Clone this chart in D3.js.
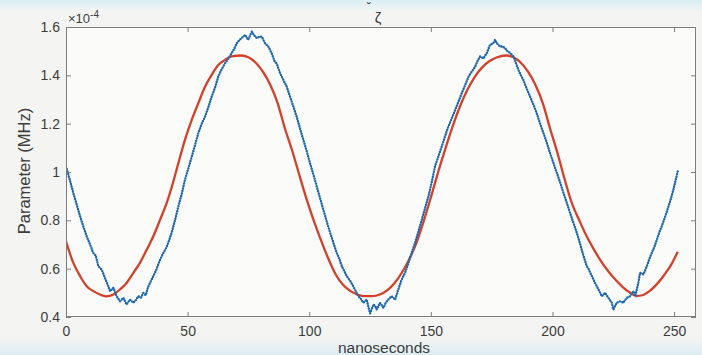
<!DOCTYPE html>
<html>
<head>
<meta charset="utf-8">
<script src="https://cdn.jsdelivr.net/npm/d3@7"></script>
<style>
  html, body { margin: 0; padding: 0; background: #f4f5f3; }
  svg { display: block; font-family: "Liberation Sans", Arial, Helvetica, sans-serif; }
</style>
</head>
<body>
<svg id="chart" width="702" height="355"></svg>
<script>
// Measured signal (units of 1e-4 MHz) against time in nanoseconds
const measuredT = [0,1.5,3,4.4,5.8,7.1,8.5,9.9,11.2,12.2,13.3,14.7,16,17.4,18.1,19.5,20.8,22.2,23.6,24.9,26.3,27.7,28.7,29.7,30.8,31.8,32.8,33.6,34.5,35.9,37.3,38.7,40,41.4,42.8,43.4,44.8,46.2,47.6,48.9,50.3,51.7,53,54.4,55.8,57.2,58.6,59.9,61.3,62.6,64,65.4,66.8,68.1,69.2,70.2,71.2,72.2,73.6,74.9,76.4,77.4,78.4,79.5,80.5,81.8,83.2,84.6,85.9,86.6,88,89.4,90.7,92.1,93.5,94.8,96.2,97.6,99,100.3,101.7,103.1,104.5,105.8,107.2,108.6,110,111.3,112.4,113.4,114.4,115.4,116.8,118.1,119.2,120.2,121.2,122.2,123.6,125,126.4,127.1,127.7,129.1,130.5,131.5,132.5,133.9,135.3,136.6,138,139.4,140.8,142.1,143.5,144.9,146.3,147.6,149,150.4,151.7,153.1,154.5,155.8,157.2,158.6,160,161.3,162.7,164.1,165.5,166.8,168.2,169.2,170.2,171.6,173,174.3,175.7,176.4,177.1,178.5,179.5,180.5,181.5,182.6,184,185,186,187,188,189.4,190.8,192.2,193.5,194.9,196.3,197.7,199,200.4,201.8,203.2,204.5,205.9,207.2,208.6,210,211,212,213,214.1,214.8,215.5,216.2,217.5,218.9,220.3,221.6,223,224.4,225,226.4,227.8,229.1,230.5,231.9,233.3,234,235.3,236,237.4,238.8,239.8,240.8,241.9,242.9,243.9,244.9,246.3,247.7,248.7,249.7,250.6,251.5];
const measuredV = [1.023,0.97,0.913,0.865,0.817,0.775,0.734,0.70,0.665,0.655,0.61,0.596,0.562,0.527,0.507,0.521,0.486,0.465,0.479,0.452,0.472,0.459,0.47,0.486,0.48,0.50,0.49,0.52,0.541,0.569,0.60,0.638,0.665,0.69,0.73,0.748,0.80,0.858,0.91,0.968,1.015,1.064,1.11,1.161,1.20,1.23,1.271,1.312,1.35,1.395,1.425,1.45,1.47,1.492,1.51,1.533,1.545,1.554,1.567,1.547,1.581,1.565,1.554,1.56,1.56,1.533,1.519,1.49,1.455,1.45,1.409,1.38,1.354,1.312,1.27,1.23,1.18,1.133,1.085,1.037,0.99,0.94,0.89,0.844,0.795,0.748,0.705,0.665,0.64,0.61,0.59,0.569,0.55,0.527,0.505,0.486,0.475,0.459,0.472,0.415,0.452,0.445,0.431,0.459,0.438,0.46,0.472,0.486,0.472,0.514,0.555,0.583,0.624,0.665,0.707,0.755,0.803,0.85,0.899,0.96,1.023,1.065,1.106,1.147,1.188,1.222,1.257,1.29,1.326,1.36,1.395,1.415,1.436,1.46,1.478,1.47,1.492,1.526,1.533,1.547,1.533,1.519,1.52,1.512,1.50,1.492,1.478,1.45,1.423,1.40,1.381,1.345,1.312,1.278,1.244,1.20,1.161,1.12,1.078,1.037,0.996,0.955,0.913,0.872,0.831,0.79,0.748,0.715,0.679,0.645,0.61,0.60,0.583,0.569,0.541,0.514,0.486,0.50,0.479,0.459,0.431,0.459,0.465,0.459,0.479,0.486,0.507,0.486,0.541,0.583,0.576,0.61,0.64,0.665,0.69,0.72,0.75,0.775,0.815,0.858,0.89,0.927,0.965,1.003];

// Fitted model curve
const fitT = [0,3,5.8,8.5,11.2,14,16.7,19.5,22.2,24.9,27.7,30.4,33.2,35.9,38.7,41.4,43.4,46.2,48.9,51.7,54.4,57.2,59.9,62.6,65.4,68.1,72,75,78,81,84,87,90,93,96,99,102,105,108,111,114,117,120,123,126,129,132,135,138,141,144,147,150,153,156,159,162,165,168,171,174,177,181,184,187,190,193,196,199,202,205,208,211,214,217,220,223,226,229,232,234.5,237,240,243,246,249,251.5];
const fitV = [0.713,0.624,0.569,0.527,0.507,0.493,0.485,0.493,0.514,0.541,0.583,0.624,0.679,0.734,0.803,0.872,0.935,1.037,1.133,1.216,1.285,1.354,1.402,1.443,1.464,1.478,1.482,1.475,1.452,1.414,1.36,1.285,1.18,1.088,0.985,0.885,0.795,0.713,0.638,0.574,0.532,0.507,0.492,0.486,0.486,0.493,0.51,0.54,0.582,0.637,0.705,0.795,0.895,1.0,1.098,1.19,1.272,1.34,1.393,1.432,1.458,1.474,1.482,1.475,1.452,1.414,1.36,1.285,1.18,1.08,0.97,0.87,0.80,0.735,0.68,0.63,0.588,0.553,0.523,0.50,0.487,0.49,0.508,0.537,0.575,0.62,0.67];

const xTicks = [0, 50, 100, 150, 200, 250];
const yTicks = [0.4, 0.6, 0.8, 1, 1.2, 1.4, 1.6];

const svg = d3.select("#chart");
const W = 702, H = 355;
const m = { left: 66, right: 6, top: 27, bottom: 38 };
const pw = W - m.left - m.right, ph = H - m.top - m.bottom;

// screen bands of the figure background
const defs = svg.append("defs");
const gTop = defs.append("linearGradient").attr("id", "topband").attr("x1", 0).attr("y1", 0).attr("x2", 0).attr("y2", 1);
gTop.append("stop").attr("offset", "0%").attr("stop-color", "#d9eef4");
gTop.append("stop").attr("offset", "100%").attr("stop-color", "#f4f5f3");
const gBot = defs.append("linearGradient").attr("id", "botband").attr("x1", 0).attr("y1", 0).attr("x2", 0).attr("y2", 1);
gBot.append("stop").attr("offset", "0%").attr("stop-color", "#f4f5f3");
gBot.append("stop").attr("offset", "100%").attr("stop-color", "#dcecf2");
svg.append("rect").attr("width", W).attr("height", H).attr("fill", "#f4f5f3");
svg.append("rect").attr("width", W).attr("height", 12).attr("fill", "url(#topband)");
svg.append("rect").attr("y", 338).attr("width", W).attr("height", 17).attr("fill", "url(#botband)");

const x = d3.scaleLinear().domain([0, 259]).range([m.left, m.left + pw]);
const y = d3.scaleLinear().domain([0.4, 1.6]).range([m.top + ph, m.top]);

svg.append("rect")
  .attr("x", m.left).attr("y", m.top).attr("width", pw).attr("height", ph)
  .attr("fill", "#fbfbfa");

const clip = defs.append("clipPath").attr("id", "plotclip");
clip.append("rect").attr("x", m.left).attr("y", m.top - 3).attr("width", pw).attr("height", ph + 6);

const soft = defs.append("filter").attr("id", "soft");
soft.append("feGaussianBlur").attr("stdDeviation", 0.35);

const plot = svg.append("g").attr("clip-path", "url(#plotclip)").attr("filter", "url(#soft)");

const fitLine = d3.line().x((d, i) => x(fitT[i])).y(d => y(d)).curve(d3.curveMonotoneX);
const measLine = d3.line().x((d, i) => x(measuredT[i])).y(d => y(d));

plot.append("path").datum(fitV).attr("d", fitLine)
  .attr("fill", "none").attr("stroke", "#d4402a").attr("stroke-width", 2.3);

plot.append("path").datum(measuredV).attr("d", measLine)
  .attr("fill", "none").attr("stroke", "#5aa5dc").attr("stroke-width", 1.1);
plot.append("path").datum(measuredV).attr("d", measLine)
  .attr("fill", "none").attr("stroke", "#1f66ad").attr("stroke-width", 2.4)
  .attr("stroke-linecap", "round").attr("stroke-dasharray", "0,2.6");

// axes with inward ticks on all four sides
const axisColor = "#7d7d7d", textColor = "#3c3c3c";
function styleAxis(g) {
  g.selectAll(".domain").remove();
  g.selectAll("line").attr("stroke", axisColor);
  g.selectAll("text").attr("fill", textColor).attr("font-size", 14)
    .attr("font-family", "'Liberation Sans', Arial, sans-serif");
}
svg.append("g").attr("transform", `translate(0,${m.top + ph})`)
  .call(d3.axisBottom(x).tickValues(xTicks).tickSize(-5).tickPadding(9).tickFormat(d3.format("d")))
  .call(styleAxis);
svg.append("g").attr("transform", `translate(0,${m.top})`)
  .call(d3.axisTop(x).tickValues(xTicks).tickSize(-5).tickFormat(""))
  .call(styleAxis);
svg.append("g").attr("transform", `translate(${m.left},0)`)
  .call(d3.axisLeft(y).tickValues(yTicks).tickSize(-5).tickPadding(6).tickFormat(d3.format("~g")))
  .call(styleAxis);
svg.append("g").attr("transform", `translate(${m.left + pw},0)`)
  .call(d3.axisRight(y).tickValues(yTicks).tickSize(-5).tickFormat(""))
  .call(styleAxis);

svg.append("rect")
  .attr("x", m.left + 0.5).attr("y", m.top + 0.5).attr("width", pw - 1).attr("height", ph - 1)
  .attr("fill", "none").attr("stroke", axisColor).attr("stroke-width", 1);

// exponent, title, axis labels
const expo = svg.append("text").attr("x", m.left + 2).attr("y", 23)
  .attr("fill", textColor).attr("font-size", 13);
expo.append("tspan").text("×10");
expo.append("tspan").attr("dy", -5).attr("font-size", 10).text("-4");

svg.append("text").attr("x", 367).attr("y", 12).attr("fill", textColor)
  .attr("font-size", 12).text("˘");
svg.append("text").attr("x", 378).attr("y", 23).attr("text-anchor", "middle")
  .attr("fill", textColor).attr("font-size", 15).text("ζ");

svg.append("text").attr("x", 384).attr("y", 353).attr("text-anchor", "middle")
  .attr("fill", textColor).attr("font-size", 15.5).text("nanoseconds");

svg.append("text")
  .attr("transform", `translate(30,171) rotate(-90)`)
  .attr("text-anchor", "middle").attr("fill", textColor).attr("font-size", 16.5)
  .text("Parameter (MHz)");
</script>
</body>
</html>
